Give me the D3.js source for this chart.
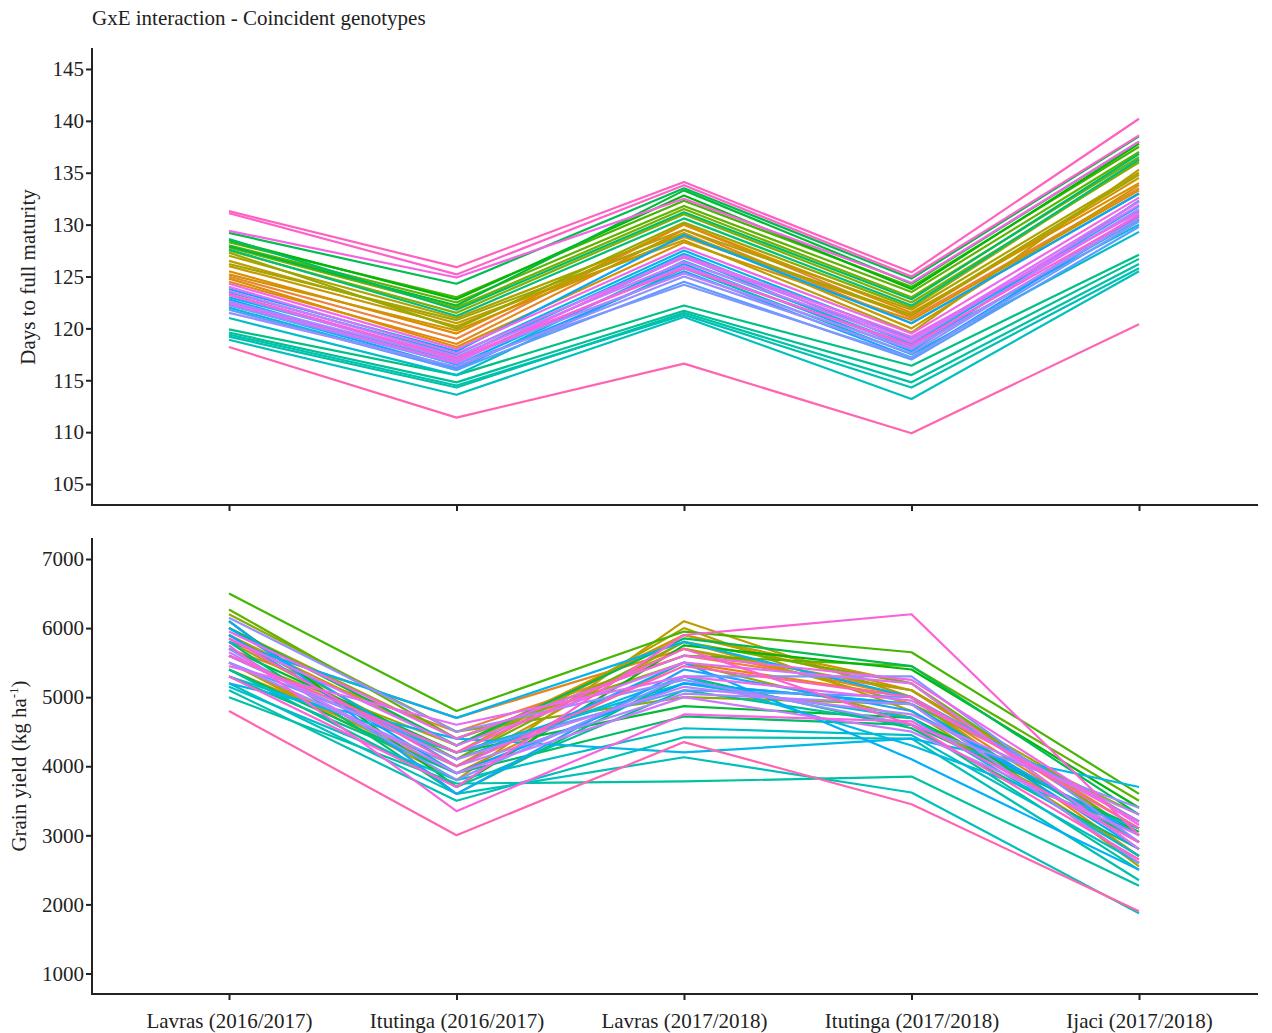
<!DOCTYPE html>
<html>
<head>
<meta charset="utf-8">
<script src="https://cdn.jsdelivr.net/npm/d3@7"></script>
<style>
  body { margin: 0; background: #fff; }
  text { font-family: "Liberation Serif", "Times New Roman", serif; fill: #222; }
</style>
</head>
<body>
<svg id="chart" width="1272" height="1033"></svg>
<script>
// environments on the x axis
var environments = ["Lavras (2016/2017)", "Itutinga (2016/2017)", "Lavras (2017/2018)", "Itutinga (2017/2018)", "Ijaci (2017/2018)"];

// days to full maturity, one row per genotype (order = colour order)
var daysToMaturity = [
  [125.0, 119.0, 130.0, 121.0, 133.5],
  [124.5, 118.5, 129.5, 120.5, 133.0],
  [125.5, 119.5, 130.0, 121.5, 134.0],
  [124.8, 118.2, 128.3, 120.8, 133.3],
  [125.2, 119.8, 128.8, 121.2, 134.5],
  [126.0, 120.2, 129.2, 120.0, 133.8],
  [126.5, 120.5, 128.5, 119.6, 135.3],
  [127.0, 121.0, 129.5, 121.8, 135.0],
  [126.2, 120.8, 129.0, 121.3, 134.8],
  [127.3, 120.0, 130.2, 122.0, 136.2],
  [127.5, 121.5, 131.0, 122.5, 136.0],
  [127.8, 122.0, 131.5, 123.0, 136.5],
  [128.0, 122.5, 131.8, 123.5, 137.0],
  [128.3, 123.0, 132.3, 124.0, 137.5],
  [128.5, 122.8, 132.8, 123.8, 137.8],
  [127.9, 122.2, 133.3, 124.3, 138.0],
  [129.2, 124.3, 133.5, 124.8, 138.5],
  [128.6, 121.8, 131.2, 122.8, 136.8],
  [127.6, 121.2, 130.6, 122.2, 136.3],
  [119.9, 115.5, 122.2, 116.4, 127.1],
  [119.6, 114.8, 121.7, 115.5, 126.7],
  [119.2, 114.3, 121.5, 114.8, 126.2],
  [119.4, 114.5, 121.3, 114.3, 125.8],
  [118.9, 113.6, 121.1, 113.2, 125.5],
  [121.0, 115.5, 125.8, 117.5, 129.3],
  [122.0, 116.0, 126.5, 118.3, 130.0],
  [122.5, 116.8, 126.9, 118.0, 130.5],
  [123.5, 117.5, 127.5, 119.0, 131.3],
  [123.0, 117.2, 127.2, 118.5, 131.8],
  [122.8, 116.5, 126.2, 117.8, 132.3],
  [123.8, 117.8, 129.0, 120.5, 133.0],
  [122.3, 116.2, 125.5, 117.2, 130.8],
  [121.8, 116.0, 124.5, 117.0, 129.8],
  [122.2, 116.6, 124.2, 117.2, 130.3],
  [121.5, 116.3, 125.0, 117.6, 131.0],
  [122.6, 117.0, 125.3, 118.0, 130.6],
  [123.2, 116.9, 126.0, 118.2, 131.5],
  [123.6, 117.3, 126.4, 118.7, 131.9],
  [124.0, 117.6, 126.8, 118.9, 132.2],
  [122.4, 116.7, 127.0, 119.2, 131.2],
  [124.3, 118.0, 127.8, 119.5, 132.6],
  [129.4, 124.9, 132.5, 124.4, 138.0],
  [123.3, 117.1, 125.8, 118.4, 130.9],
  [131.1, 125.2, 133.8, 125.0, 138.6],
  [131.3, 125.9, 134.1, 125.4, 140.2],
  [118.2, 111.4, 116.6, 109.9, 120.4]
];

// grain yield (kg/ha), same genotype order
var grainYield = [
  [5700, 4500, 5600, 5100, 3000],
  [5800, 4700, 5700, 5000, 2900],
  [5500, 3900, 5500, 5000, 2700],
  [5900, 4300, 5900, 5100, 3100],
  [5600, 4200, 5900, 5200, 2800],
  [5400, 4000, 5800, 4900, 2600],
  [5500, 3800, 6100, 5000, 2550],
  [5800, 4100, 6000, 4800, 2700],
  [5600, 4300, 5700, 5100, 3200],
  [6000, 4400, 5500, 4700, 2900],
  [6200, 4500, 5000, 4900, 3300],
  [5900, 4100, 5800, 5200, 3000],
  [6270, 4400, 5600, 5450, 3500],
  [6500, 4800, 5950, 5650, 3600],
  [6100, 3700, 5750, 5400, 3400],
  [5700, 4200, 4870, 4700, 3050],
  [6000, 4300, 5850, 5450, 3300],
  [5400, 3900, 4720, 4600, 3100],
  [5800, 3600, 5300, 4550, 2800],
  [5300, 3900, 5200, 4900, 2900],
  [5400, 3700, 5100, 4600, 2500],
  [5000, 3750, 3780, 3850, 2270],
  [5100, 3500, 4420, 4400, 2350],
  [5200, 3600, 4130, 3620, 1870],
  [5150, 3800, 4550, 4450, 2600],
  [5300, 4200, 5200, 4700, 2700],
  [5600, 4100, 5300, 4300, 3100],
  [5200, 4400, 4200, 4400, 3700],
  [5800, 4700, 5800, 5000, 3200],
  [6000, 4000, 5500, 4100, 2500],
  [5900, 3900, 5200, 4900, 2800],
  [6100, 3600, 5400, 4800, 3000],
  [5500, 4200, 5100, 5000, 3200],
  [5700, 3800, 5300, 5300, 2900],
  [6150, 4500, 5250, 4600, 3400],
  [5500, 4000, 5050, 4900, 2600],
  [5600, 4100, 5150, 4750, 3300],
  [5650, 3900, 5000, 4500, 3000],
  [5850, 4300, 5500, 5200, 2800],
  [5450, 4600, 5300, 4950, 3200],
  [5950, 4400, 5600, 5250, 3150],
  [5750, 3350, 4750, 4650, 2900],
  [5300, 3700, 5900, 6200, 3000],
  [5600, 4200, 5700, 4600, 2650],
  [5850, 4000, 5450, 5000, 3100],
  [4800, 3000, 4350, 3450, 1900]
];

var daysTicks = [105, 110, 115, 120, 125, 130, 135, 140, 145];
var yieldTicks = [1000, 2000, 3000, 4000, 5000, 6000, 7000];

// ggplot-like hue palette (polar LUV, c=100, l=65)
function hueColour(h)
{
    var L = 65, C = 100, rad = h * Math.PI / 180;
    var u = C * Math.cos(rad), v = C * Math.sin(rad);
    var Xn = 95.047, Yn = 100, Zn = 108.883;
    var un = 4 * Xn / (Xn + 15 * Yn + 3 * Zn), vn = 9 * Yn / (Xn + 15 * Yn + 3 * Zn);
    var Y = Yn * Math.pow((L + 16) / 116, 3);
    var up = u / (13 * L) + un, vp = v / (13 * L) + vn;
    var X = 9 * Y * up / (4 * vp);
    var Z = Y * (12 - 3 * up - 20 * vp) / (4 * vp);
    X /= 100; Y /= 100; Z /= 100;
    var r = 3.2406 * X - 1.5372 * Y - 0.4986 * Z;
    var g = -0.9689 * X + 1.8758 * Y + 0.0415 * Z;
    var b = 0.0557 * X - 0.2040 * Y + 1.0570 * Z;
    function gam(c) {
        c = c <= 0.0031308 ? 12.92 * c : 1.055 * Math.pow(c, 1 / 2.4) - 0.055;
        return Math.max(0, Math.min(255, Math.round(c * 255)));
    }
    return d3.rgb(gam(r), gam(g), gam(b)).toString();
}

var n = daysToMaturity.length;
// hues run from orange to pink (no salmon red in the reference)
var colours = d3.range(n).map(function(i) { return hueColour(30 + 315 * i / (n - 1)); });

var svg = d3.select("#chart");
var axisColour = "#222";
var fontSize = "21px";
var leftX = 92, rightX = 1258;

var x = d3.scalePoint().domain(environments).range([229, 1139]);

var yDays = d3.scaleLinear().domain([102.98, 147.02]).range([505, 48]);
var yYield = d3.scaleLinear().domain([703, 7304]).range([994, 538]);

svg.append("text")
    .attr("x", 92)
    .attr("y", 25)
    .style("font-size", fontSize)
    .text("GxE interaction - Coincident genotypes");

function drawPanel(yScale, ticks, rows, bottomY, topY, showLabels)
{
    var g = svg.append("g");

    var line = d3.line()
        .x(function(d, i) { return x(environments[i]); })
        .y(function(d) { return yScale(d); });

    g.selectAll("path.geno")
        .data(rows)
        .enter().append("path")
        .attr("class", "geno")
        .attr("d", line)
        .attr("fill", "none")
        .attr("stroke", function(d, i) { return colours[i]; })
        .attr("stroke-width", 2.2)
        .attr("stroke-linejoin", "round");

    // y axis
    var yAxis = g.append("g")
        .attr("transform", "translate(" + leftX + ",0)")
        .call(d3.axisLeft(yScale).tickValues(ticks).tickSize(6).tickSizeOuter(0).tickFormat(d3.format("d")));
    yAxis.select(".domain").remove();
    yAxis.selectAll(".tick line").attr("stroke", axisColour).attr("stroke-width", 2);
    yAxis.selectAll(".tick text")
        .attr("x", -8)
        .style("font-size", fontSize)
        .style("font-family", "Liberation Serif, serif")
        .attr("fill", axisColour);
    g.append("line")
        .attr("x1", leftX).attr("x2", leftX)
        .attr("y1", topY).attr("y2", bottomY + 1)
        .attr("stroke", axisColour).attr("stroke-width", 2);

    // x axis
    var xAxis = g.append("g")
        .attr("transform", "translate(0," + bottomY + ")")
        .call(d3.axisBottom(x).tickSize(6).tickSizeOuter(0));
    xAxis.select(".domain").remove();
    xAxis.selectAll(".tick line").attr("stroke", axisColour).attr("stroke-width", 2);
    if (showLabels) {
        xAxis.selectAll(".tick text")
            .attr("y", 19)
            .style("font-size", fontSize)
            .style("font-family", "Liberation Serif, serif")
            .attr("fill", axisColour);
    } else {
        xAxis.selectAll(".tick text").remove();
    }
    g.append("line")
        .attr("x1", leftX - 1).attr("x2", rightX)
        .attr("y1", bottomY).attr("y2", bottomY)
        .attr("stroke", axisColour).attr("stroke-width", 2);
}

drawPanel(yDays, daysTicks, daysToMaturity, 505, 48, false);
drawPanel(yYield, yieldTicks, grainYield, 994, 538, true);

// y axis titles
svg.append("text")
    .attr("transform", "translate(35,277) rotate(-90)")
    .attr("text-anchor", "middle")
    .style("font-size", fontSize)
    .text("Days to full maturity");

var yl = svg.append("text")
    .attr("transform", "translate(26,766) rotate(-90)")
    .attr("text-anchor", "middle")
    .style("font-size", fontSize);
yl.append("tspan").text("Grain yield (kg ha");
yl.append("tspan").attr("dy", -8).style("font-size", "13px").text("-1");
yl.append("tspan").attr("dy", 8).text(")");
</script>
</body>
</html>
